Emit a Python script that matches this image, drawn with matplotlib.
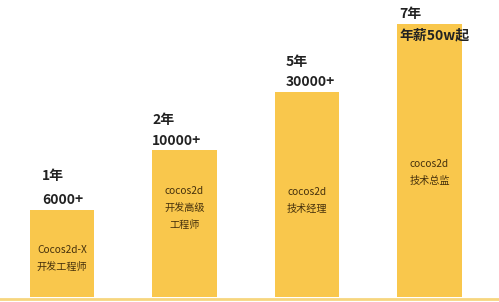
import matplotlib.pyplot as plt
import numpy as np

plt.rcParams['font.family'] = ['Noto Sans CJK SC', 'DejaVu Sans']

# career ladder: years, salary headline, role inside the bar, bar level
years = ['1年', '2年', '5年', '7年']
salaries = ['6000+', '10000+', '30000+', '年薪50w起']
roles = ['Cocos2d-X\n开发工程师', 'cocos2d\n开发高级\n工程师', 'cocos2d\n技术经理', 'cocos2d\n技术总监']
levels = [87, 147, 205, 273]

bar_color = '#F9C74C'
text_dark = '#222222'
role_color = '#45300c'

fig = plt.figure(figsize=(4.99, 3.02), dpi=100)
ax = fig.add_axes([0, 0, 1, 1])
x = np.arange(len(levels))
bars = ax.bar(x, levels, width=0.53, color=bar_color, zorder=2)

# thin base line across the full width
ax.axhline(-1.5, color='#F7D67E', lw=2, zorder=1)

# per-bar tweaks for headline text placement
head_dx = [0.1, 0.0, 0.09, 0.02]
salary_dy = [10, 9, 10, -11]
year_dy = [34, 30, 30, 10]
role_y = [0.44, 0.605, 0.47, 0.455]

for i, b in enumerate(bars):
    left = b.get_x() + head_dx[i]
    top = b.get_height()
    ax.text(left, top + year_dy[i], years[i], ha='left', va='center',
            fontsize=10, fontweight='bold', color=text_dark, zorder=3)
    ax.text(left, top + salary_dy[i], salaries[i], ha='left', va='center',
            fontsize=10, fontweight='bold', color=text_dark, zorder=3)
    ax.text(b.get_x() + b.get_width() / 2, top * role_y[i], roles[i],
            ha='center', va='center', fontsize=7.3, color=role_color,
            linespacing=1.85, zorder=3)

ax.set_xlim(-0.506, 3.567)
ax.set_ylim(-5, 297)
ax.axis('off')

fig.savefig('out.png', dpi=100, facecolor='white')
